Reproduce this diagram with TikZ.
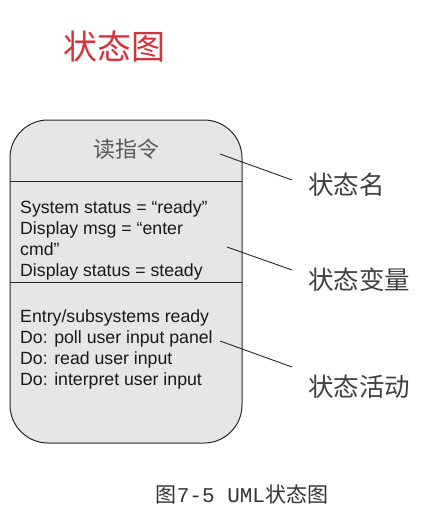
\documentclass[tikz,border=0pt]{standalone}
\usepackage{fontspec}
\setmainfont{Liberation Sans}
\setmonofont{Liberation Mono}
\newfontfamily\cjk{Noto Sans CJK SC}
\usepackage{xcolor}
\definecolor{titlered}{RGB}{214,50,60}
\definecolor{boxgray}{RGB}{230,230,230}
\definecolor{edgegray}{RGB}{40,40,40}
\definecolor{labelgray}{RGB}{64,64,64}
\tikzset{
  sectiontext/.style={anchor=north west,inner sep=0pt,align=left,text=black!90,
    font=\fontsize{17.7}{21}\selectfont},
  partlabel/.style={anchor=west,inner sep=0pt,text=labelgray,
    font=\cjk\fontsize{25.5}{30}\selectfont},
  leader/.style={draw=black!85,line width=0.9pt}
}

\begin{document}
\begin{tikzpicture}[x=1pt,y=-1pt]
        \useasboundingbox (0,0) rectangle (429,527);
        \node[text=titlered,font=\cjk\fontsize{34}{40}\selectfont] (title) at (114,47) {状态图};
        \draw[fill=boxgray,draw=edgegray,line width=1pt,rounded corners=38] (10,120) rectangle (242,443);
        \draw[draw=edgegray,line width=1pt] (10,181) -- (242,181);
        \draw[draw=edgegray,line width=1pt] (10,282) -- (242,282);
        \node[text=black!65,font=\cjk\fontsize{22}{26}\selectfont] (statename) at (126,149) {读指令};
        \node[sectiontext] (vars) at (20,200) {System status = “ready”\\Display msg = “enter\\cmd”\\Display status = steady};
        \node[sectiontext] (acts) at (20,309) {Entry/subsystems ready\\Do: poll user input panel\\Do: read user input\\Do: interpret user input};
        \coordinate (p1) at (220,154);
        \coordinate (p2) at (227,247);
        \coordinate (p3) at (220,341);
        \node[partlabel] (lname) at (308,185) {状态名};
        \node[partlabel] (lvars) at (308,280) {状态变量};
        \node[partlabel] (lacts) at (308,387) {状态活动};
        \draw[leader] (p1) -- ([xshift=-16pt,yshift=5pt]lname.west);
        \draw[leader] (p2) -- ([xshift=-16pt,yshift=10pt]lvars.west);
        \draw[leader] (p3) -- ([xshift=-16pt,yshift=20pt]lacts.west);
        \node[font=\fontsize{21}{24}\selectfont,text=black!80] (caption) at (242,494) {{\cjk 图}{\ttfamily 7-5 UML}{\cjk 状态图}};
    \end{tikzpicture}
\end{document}
